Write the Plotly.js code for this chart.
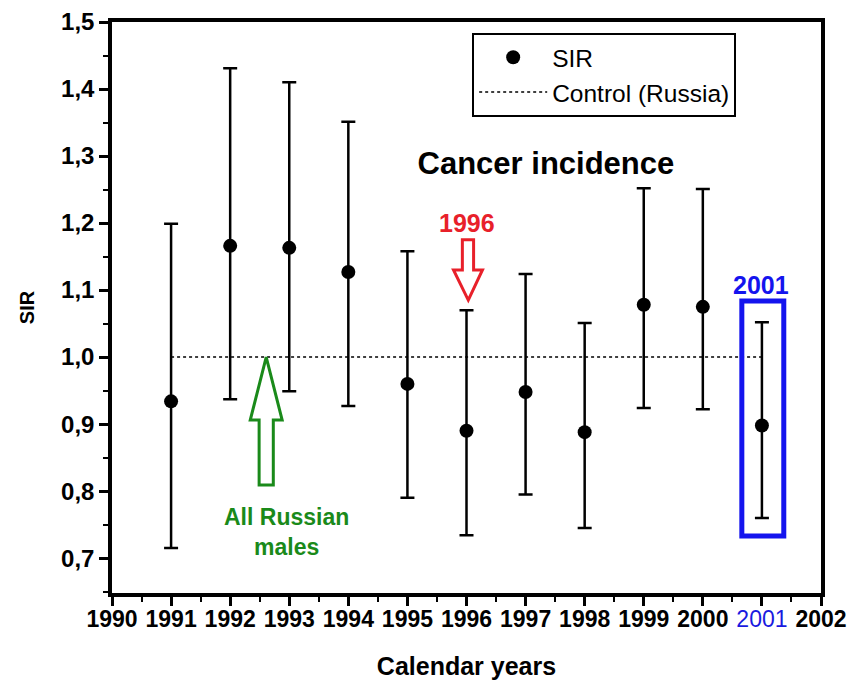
<!DOCTYPE html>
<html>
<head>
<meta charset="utf-8">
<script src="https://cdn.plot.ly/plotly-3.0.1.min.js"></script>
<style>html,body{margin:0;padding:0;background:#fff}#chart{width:849px;height:682px}</style>
</head>
<body>
<div id="chart"></div>
<script>
// Data
const years = [1991, 1992, 1993, 1994, 1995, 1996, 1997, 1998, 1999, 2000, 2001];
const sir   = [0.934, 1.166, 1.163, 1.127, 0.960, 0.890, 0.948, 0.888, 1.078, 1.075, 0.898];
const upper = [1.199, 1.431, 1.410, 1.351, 1.158, 1.070, 1.124, 1.051, 1.252, 1.251, 1.052];
const lower = [0.715, 0.937, 0.949, 0.927, 0.790, 0.734, 0.795, 0.745, 0.924, 0.922, 0.760];
const controlYears = [1991, 2001];
const controlValue = [1.0, 1.0];
const xTickVals = [1990, 1991, 1992, 1993, 1994, 1995, 1996, 1997, 1998, 1999, 2000, 2001, 2002];
const xTickText = ['1990','1991','1992','1993','1994','1995','1996','1997','1998','1999','2000',
  '<span style="color:#1a1adf;font-weight:normal">2001</span>','2002'];

const F = 'Liberation Sans, Arial, sans-serif';

const errPlus = upper.map((u, i) => u - sir[i]);
const errMinus = lower.map((l, i) => sir[i] - l);

const traces = [
  {
    x: years, y: sir, type: 'scatter', mode: 'markers', name: 'SIR',
    marker: {color: '#000', size: 14},
    error_y: {type: 'data', symmetric: false, array: errPlus, arrayminus: errMinus,
      color: '#000', thickness: 2.5, width: 7}
  },
  {
    x: controlYears, y: controlValue, type: 'scatter', mode: 'lines', name: 'Control (Russia)',
    line: {color: '#000', width: 1.5, dash: 'dot'}
  }
];

// hollow arrows (data coordinates)
const greenArrow = 'M 1992.61 1.0 L 1992.88 0.906 L 1992.73 0.906 L 1992.73 0.809 L 1992.49 0.809 L 1992.49 0.906 L 1992.34 0.906 Z';
const redArrow = 'M 1996.03 1.085 L 1996.27 1.13 L 1996.12 1.13 L 1996.12 1.175 L 1995.93 1.175 L 1995.93 1.13 L 1995.78 1.13 Z';

const layout = {
  width: 849, height: 682,
  margin: {l: 112, r: 28, t: 22, b: 89},
  paper_bgcolor: '#fff', plot_bgcolor: '#fff',
  separators: ', ',
  showlegend: true,
  font: {family: F, color: '#000'},
  title: {text: 'Cancer incidence', font: {family: F, size: 31, weight: 'bold', color: '#000'},
    xref: 'paper', yref: 'paper', x: 0.612, y: 0.753, xanchor: 'center', yanchor: 'middle'},
  legend: {
    x: 0.508, y: 0.981, xanchor: 'left', yanchor: 'top',
    bordercolor: '#000', borderwidth: 2, bgcolor: '#fff',
    font: {family: F, size: 24.5, color: '#000'},
    itemwidth: 68, tracegroupgap: 0
  },
  xaxis: {
    range: [1990, 2002], tickmode: 'array', tickvals: xTickVals, ticktext: xTickText,
    showgrid: false, zeroline: false,
    showline: true, linecolor: '#000', linewidth: 3.5, mirror: true,
    ticks: 'outside', ticklen: 9, tickwidth: 3, tickcolor: '#000',
    ticklabelstandoff: -6,
    tickfont: {family: F, size: 23, weight: 'bold', color: '#000'},
    minor: {dtick: 0.5, ticks: 'outside', ticklen: 5, tickwidth: 2, tickcolor: '#000', showgrid: false},
    title: {text: 'Calendar years', font: {family: F, size: 25, weight: 'bold', color: '#000'}, standoff: 27}
  },
  yaxis: {
    range: [0.648, 1.5], tickmode: 'linear', tick0: 0.7, dtick: 0.1, tickformat: '.1f',
    showgrid: false, zeroline: false,
    showline: true, linecolor: '#000', linewidth: 3.5, mirror: true,
    ticks: 'outside', ticklen: 9, tickwidth: 3, tickcolor: '#000',
    tickfont: {family: F, size: 24, weight: 'bold', color: '#000'},
    minor: {dtick: 0.05, ticks: 'outside', ticklen: 5, tickwidth: 2, tickcolor: '#000', showgrid: false},
    title: {text: 'SIR', font: {family: F, size: 20, weight: 'bold', color: '#000'}, standoff: 22}
  },
  shapes: [
    {type: 'path', xref: 'x', yref: 'y', path: greenArrow, line: {color: '#1a8a1a', width: 3}, fillcolor: 'rgba(0,0,0,0)'},
    {type: 'path', xref: 'x', yref: 'y', path: redArrow, line: {color: '#e8202a', width: 3}, fillcolor: 'rgba(0,0,0,0)'},
    {type: 'rect', xref: 'x', yref: 'y', x0: 2000.66, x1: 2001.37, y0: 0.733, y1: 1.0836,
      line: {color: '#1414ee', width: 5}, fillcolor: 'rgba(0,0,0,0)'}
  ],
  annotations: [
    {text: '1996', xref: 'x', yref: 'y', x: 1996.0, y: 1.2, showarrow: false,
      font: {family: F, size: 25, weight: 'bold', color: '#e8202a'}},
    {text: '2001', xref: 'x', yref: 'y', x: 2000.98, y: 1.108, showarrow: false,
      font: {family: F, size: 25, weight: 'bold', color: '#1414ee'}},
    {text: 'All Russian<br>males', xref: 'x', yref: 'y', x: 1992.95, y: 0.739, showarrow: false,
      font: {family: F, size: 23, weight: 'bold', color: '#1a8a1a'}}
  ]
};

Plotly.newPlot('chart', traces, layout, {displayModeBar: false});
</script>
</body>
</html>
